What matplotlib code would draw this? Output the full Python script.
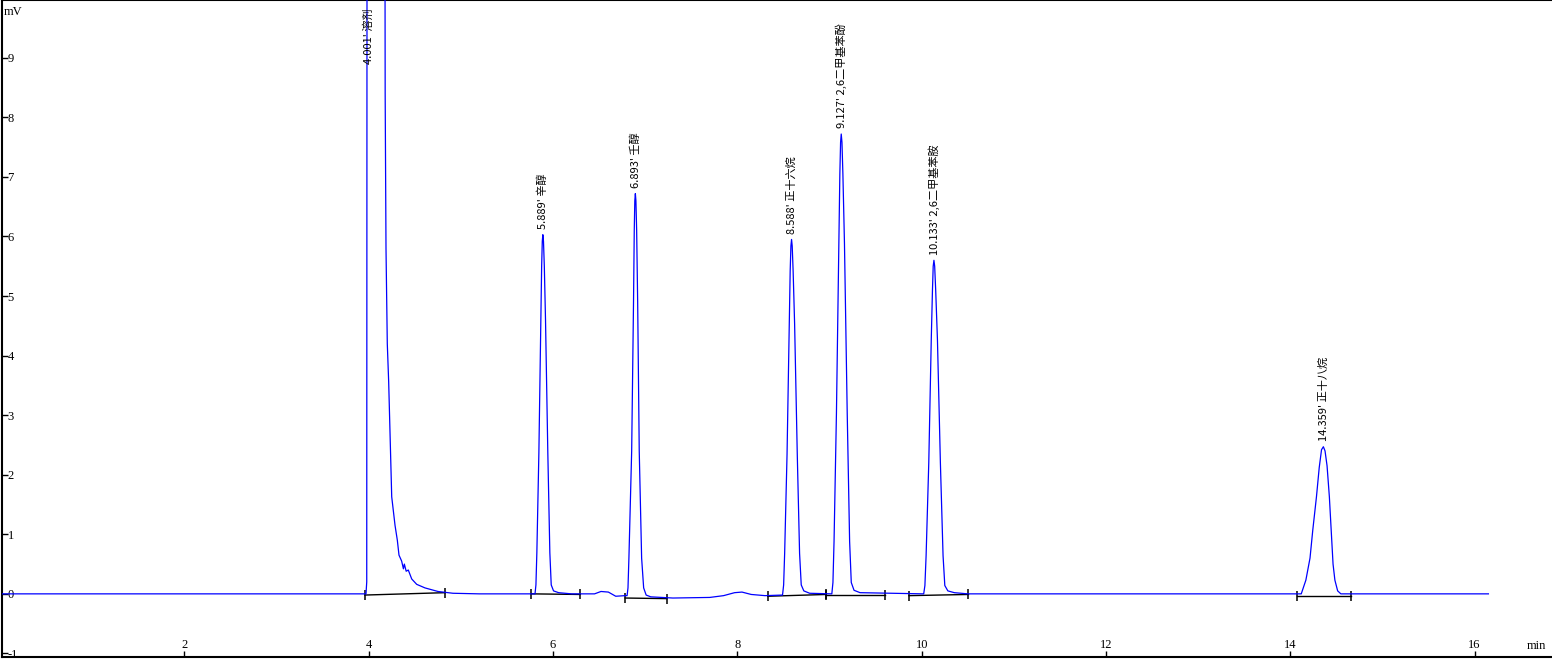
import matplotlib
matplotlib.use("Agg")
import matplotlib.pyplot as plt

plt.rcParams["axes.unicode_minus"] = False

# chromatogram trace (time in min, signal in mV)
lead_t = [0.0, 3.970]
lead_mv = [0.0, 0.0]

solvent_t = [3.978, 3.985, 4.001, 4.165, 4.178, 4.187, 4.201, 4.216, 4.230,
             4.249, 4.266, 4.285, 4.310, 4.328, 4.357, 4.376, 4.386, 4.406,
             4.429, 4.466, 4.520, 4.610, 4.751, 4.914, 5.200]
solvent_mv = [0.2, 25.0, 40.0, 25.0, 8.4, 5.8, 4.2, 3.56, 2.72,
              1.63, 1.40, 1.15, 0.90, 0.65, 0.55, 0.42, 0.50, 0.38,
              0.40, 0.25, 0.16, 0.10, 0.04, 0.01, 0.0]

octanol_t = [5.804, 5.814, 5.824, 5.846, 5.867, 5.876, 5.883, 5.889, 5.896,
             5.905, 5.918, 5.943, 5.965, 5.980, 6.005, 6.060, 6.200, 6.450,
             6.520, 6.600, 6.680, 6.780]
octanol_mv = [0.0, 0.15, 0.69, 2.37, 4.6, 5.5, 5.92, 6.03, 5.92,
              5.5, 4.6, 2.37, 0.69, 0.15, 0.05, 0.02, 0.0, 0.0,
              0.04, 0.03, -0.04, -0.03]

nonanol_t = [6.803, 6.813, 6.823, 6.853, 6.873, 6.881, 6.887, 6.893, 6.899,
             6.907, 6.918, 6.935, 6.961, 6.983, 7.010, 7.060, 7.300, 7.700,
             7.850, 7.970, 8.050, 8.150, 8.300]
nonanol_mv = [-0.03, 0.1, 0.6, 2.4, 4.9, 6.1, 6.6, 6.72, 6.6,
              6.1, 4.9, 2.4, 0.6, 0.1, -0.02, -0.05, -0.07, -0.06,
              -0.03, 0.02, 0.03, -0.01, -0.03]

hexadecane_t = [8.490, 8.502, 8.513, 8.539, 8.563, 8.573, 8.581, 8.588,
                8.595, 8.605, 8.621, 8.650, 8.675, 8.693, 8.721, 8.784]
hexadecane_mv = [-0.02, 0.15, 0.68, 2.34, 4.54, 5.42, 5.84, 5.95,
                 5.84, 5.42, 4.54, 2.34, 0.68, 0.15, 0.05, 0.01]

phenol_t = [9.025, 9.037, 9.049, 9.075, 9.101, 9.112, 9.120, 9.127, 9.135,
            9.145, 9.162, 9.192, 9.218, 9.236, 9.266, 9.331]
phenol_mv = [0.0, 0.19, 0.88, 3.03, 5.89, 7.05, 7.58, 7.72, 7.58,
             7.05, 5.89, 3.03, 0.88, 0.19, 0.06, 0.02]

aniline_t = [10.022, 10.035, 10.048, 10.077, 10.104, 10.117, 10.125, 10.133,
             10.141, 10.152, 10.171, 10.203, 10.232, 10.251, 10.284, 10.354,
             10.500]
aniline_mv = [0.0, 0.14, 0.64, 2.2, 4.27, 5.1, 5.5, 5.6,
              5.5, 5.1, 4.27, 2.2, 0.64, 0.14, 0.05, 0.02,
              0.0]

octadecane_t = [14.119, 14.169, 14.214, 14.244, 14.284, 14.314, 14.339,
                14.359, 14.377, 14.399, 14.424, 14.444, 14.464, 14.484,
                14.514, 14.549]
octadecane_mv = [0.0, 0.23, 0.6, 1.07, 1.63, 2.12, 2.42,
                 2.47, 2.40, 2.15, 1.63, 1.07, 0.5, 0.23,
                 0.05, 0.0]

tail_t = [16.15]
tail_mv = [0.0]

# peak labels
label_t = [4.001, 5.889, 6.893, 8.588, 9.127, 10.133, 14.359]
label_mv = [8.80, 6.03, 6.72, 5.95, 7.72, 5.60, 2.47]
label_name = ["溶剂", "辛醇", "壬醇", "正十六烷", "2,6二甲基苯酚", "2,6二甲基苯胺", "正十八烷"]

# integration baselines (start / end of each peak)
base_t0 = [3.958, 5.765, 6.784, 8.330, 8.966, 9.862, 14.074]
base_t1 = [4.829, 6.296, 7.235, 8.966, 9.598, 10.508, 14.664]
base_mv0 = [-0.02, 0.0, -0.07, -0.04, -0.02, -0.03, -0.03]
base_mv1 = [0.02, -0.01, -0.08, -0.01, -0.02, -0.01, -0.03]

W, H = 1552, 660


def build_trace():
    t = lead_t + solvent_t + octanol_t + nonanol_t + hexadecane_t + phenol_t \
        + aniline_t + octadecane_t + tail_t
    mv = lead_mv + solvent_mv + octanol_mv + nonanol_mv + hexadecane_mv \
        + phenol_mv + aniline_mv + octadecane_mv + tail_mv
    return t, mv


def plot_chromatogram(output):
    fig = plt.figure(figsize=(W / 100, H / 100), dpi=100)
    ax = fig.add_axes([2 / W, 3 / H, 1550 / W, 657 / H])

    # integration baselines with start/end marks
    for t0, t1, v0, v1 in zip(base_t0, base_t1, base_mv0, base_mv1):
        ax.plot([t0, t1], [v0, v1], color="black", lw=1.0, zorder=2)
        ax.plot([t0, t1], [v0, v1], ls="none", marker="|", color="black",
                markersize=7.5, markeredgewidth=1.1, zorder=2)

    t, mv = build_trace()
    ax.plot(t, mv, color="#0000ff", lw=0.9, zorder=3)

    for lt, lv, name in zip(label_t, label_mv, label_name):
        ax.annotate("%.3f' %s" % (lt, name), xy=(lt, lv), xytext=(0, 4),
                    textcoords="offset points", rotation=90, ha="center",
                    va="bottom", fontsize=8, color="black",
                    family=["Noto Sans CJK SC", "DejaVu Sans"])

    ax.set_xlim(0.02, 16.84)
    ax.set_ylim(-1.06, 9.97)
    ax.set_xticks(range(2, 17, 2))
    ax.set_yticks(range(-1, 10))

    for s in ax.spines.values():
        s.set_linewidth(1.5)
    ax.spines["right"].set_visible(False)
    ax.tick_params(axis="both", direction="in", length=4, width=1,
                   labelsize=9, pad=-4)
    for lab in ax.get_yticklabels():
        lab.set_horizontalalignment("left")
        lab.set_family("Liberation Serif")
    for lab in ax.get_xticklabels():
        lab.set_verticalalignment("bottom")
        lab.set_family("Liberation Serif")

    fig.text(4 / W, 1 - 6 / H, "mV", ha="left", va="top", fontsize=9,
             family="Liberation Serif")
    fig.text(1546 / W, 1 - 652 / H, "min", ha="right", va="bottom",
             fontsize=9, family="Liberation Serif")

    fig.savefig(output, dpi=100)


if __name__ == "__main__":
    plot_chromatogram("out.png")
